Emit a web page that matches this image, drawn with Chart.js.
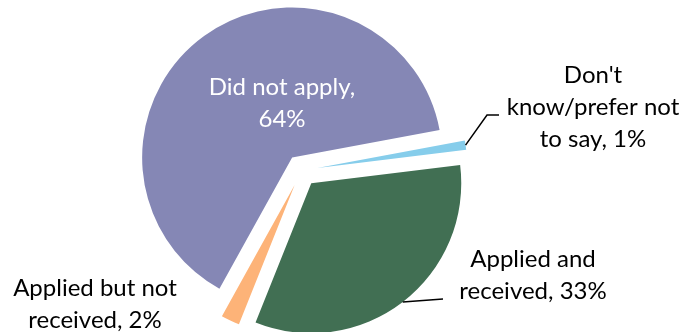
<!DOCTYPE html>
<html>
<head>
<meta charset="utf-8">
<script src="https://cdn.jsdelivr.net/npm/chart.js@4.4.0/dist/chart.umd.min.js"></script>
<style>
  html, body { margin: 0; padding: 0; background: #fff; }
  #wrap { width: 685px; height: 332px; }
</style>
</head>
<body>
<div id="wrap"><canvas id="pie"></canvas></div>
<script>
const categories = ['Did not apply', "Don't know/prefer not to say", 'Applied and received', 'Applied but not received'];
const shares = [64, 1, 33, 2];
const sliceColors = ['#8587b5', '#86cdeb', '#416f53', '#fdb378'];
const labelLines = [
  ['Did not apply,', '64%'],
  ["Don't", 'know/prefer not', 'to say, 1%'],
  ['Applied and', 'received, 33%'],
  ['Applied but not', 'received, 2%']
];

// how far every slice is pulled out from the centre (px)
const explode = 16;

// text centre of each label's first line, and leader elbows for the outside ones
const labelSpots = [
  { x: 282, y: 87, color: '#fff' },
  { x: 593, y: 75, leader: [[487, 115], [499, 115]] },
  { x: 533, y: 259, leader: [[443, 299]] },
  { x: 95, y: 288 }
];
const lineHeight = 32;
const labelFont = '24px Lato';

// chart.js' own "offset" also grows the radius, so shift the arcs by hand instead
const explodeSlices = {
  id: 'explodeSlices',
  afterDatasetUpdate(chart, args) {
    args.meta.data.forEach(arc => {
      const mid = (arc.startAngle + arc.endAngle) / 2;
      arc.x += Math.cos(mid) * explode;
      arc.y += Math.sin(mid) * explode;
    });
  }
};

const pieLabels = {
  id: 'pieLabels',
  afterDatasetsDraw(chart) {
    const ctx = chart.ctx;
    const arcs = chart.getDatasetMeta(0).data;
    ctx.save();
    ctx.font = labelFont;
    ctx.textAlign = 'center';
    ctx.textBaseline = 'middle';
    arcs.forEach((arc, i) => {
      const spot = labelSpots[i];
      const mid = (arc.startAngle + arc.endAngle) / 2;
      if (spot.leader) {
        ctx.beginPath();
        ctx.moveTo(arc.x + Math.cos(mid) * arc.outerRadius, arc.y + Math.sin(mid) * arc.outerRadius);
        spot.leader.forEach(pt => ctx.lineTo(pt[0], pt[1]));
        ctx.strokeStyle = '#000';
        ctx.lineWidth = 1.5;
        ctx.stroke();
      }
      ctx.fillStyle = spot.color || '#000';
      labelLines[i].forEach((t, k) => ctx.fillText(t, spot.x, spot.y + k * lineHeight));
    });
    ctx.restore();
  }
};

new Chart(document.getElementById('pie'), {
  type: 'pie',
  data: {
    labels: categories,
    datasets: [{
      data: shares,
      backgroundColor: sliceColors,
      borderWidth: 0,
      radius: 150
    }]
  },
  options: {
    responsive: true,
    maintainAspectRatio: false,
    animation: false,
    rotation: 209,
    layout: { padding: { left: 0, right: 82, top: 9, bottom: 0 } },
    plugins: {
      legend: { display: false },
      tooltip: { enabled: false }
    }
  },
  plugins: [explodeSlices, pieLabels]
});
</script>
</body>
</html>
